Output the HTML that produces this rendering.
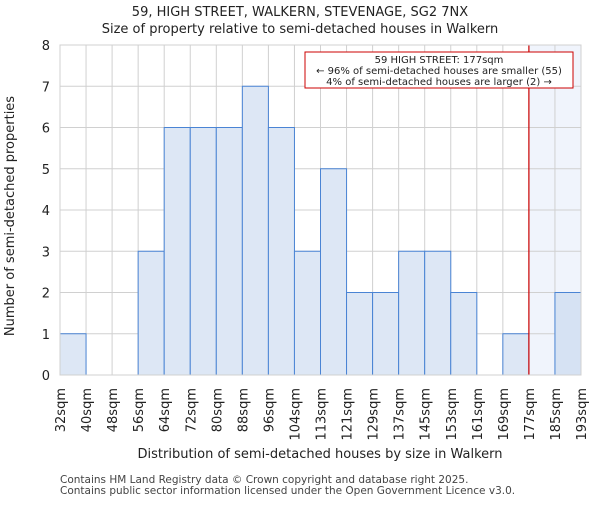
<!DOCTYPE html><html><head><meta charset="utf-8"><style>body{margin:0;background:#fff}svg{font-family:"DejaVu Sans","Liberation Sans",sans-serif}</style></head><body>
<svg id="c" width="600" height="500"></svg>
<script>
const categories=["32sqm","40sqm","48sqm","56sqm","64sqm","72sqm","80sqm","88sqm","96sqm","104sqm","113sqm","121sqm","129sqm","137sqm","145sqm","153sqm","161sqm","169sqm","177sqm","185sqm","193sqm"];
const counts=[1,0,0,3,6,6,6,7,6,3,5,2,2,3,3,2,0,1,0,2];
const yTicks=[0,1,2,3,4,5,6,7,8];
const markerIndex=18;
const NS="http://www.w3.org/2000/svg",svg=document.getElementById('c');
const L=60,R=581,T=45,B=375,n=counts.length,bw=(R-L)/n;
const x=i=>L+i*bw,y=v=>B-v*(B-T)/8;
function el(t,a,p){const e=document.createElementNS(NS,t);for(const k in a)e.setAttribute(k,a[k]);(p||svg).appendChild(e);return e;}
function tx(s,a){const e=el('text',a);e.textContent=s;return e;}
let e=el('rect',{x:x(markerIndex),y:T,width:R-x(markerIndex),height:B-T,fill:'#f0f4fc'});

for(let i=0;i<=n;i++){e=el('line',{x1:x(i),x2:x(i),y1:T,y2:B,stroke:'#d0d0d0'});}
yTicks.forEach(v=>{e=el('line',{x1:L,x2:R,y1:y(v),y2:y(v),stroke:'#d0d0d0'});
e=tx(v,{x:L-10,y:y(v)+5,'text-anchor':'end','font-size':13,fill:'#222'});});
counts.forEach((v,i)=>{if(!v)return;e=el('rect',{x:x(i),y:y(v),width:bw,height:B-y(v),fill:i>=markerIndex?'#d6e2f3':'#dde7f5',stroke:'#4a84d4','stroke-width':1});
});
categories.forEach((c,i)=>{e=tx(c,{transform:`translate(${x(i)+5},388) rotate(-90)`,'text-anchor':'end','font-size':13,fill:'#222'});});
e=el('line',{x1:x(markerIndex),x2:x(markerIndex),y1:T,y2:B,stroke:'#cc0000','stroke-width':1.2});
e=el('rect',{x:305,y:52,width:268,height:36,fill:'#fff',stroke:'#cc0000'});
["59 HIGH STREET: 177sqm","← 96% of semi-detached houses are smaller (55)","4% of semi-detached houses are larger (2) →"].forEach((s,k)=>{e=tx(s,{x:439,y:63+k*11,'text-anchor':'middle','font-size':10,fill:'#222'});});
e=el('rect',{x:L,y:T,width:R-L,height:B-T,fill:'none',stroke:'#d0d0d0'});
e=tx("59, HIGH STREET, WALKERN, STEVENAGE, SG2 7NX",{x:300,y:16,'text-anchor':'middle','font-size':13,fill:'#222'});
e=tx("Size of property relative to semi-detached houses in Walkern",{x:300,y:33,'text-anchor':'middle','font-size':13,fill:'#222'});
e=tx("Distribution of semi-detached houses by size in Walkern",{x:320,y:458,'text-anchor':'middle','font-size':13,fill:'#222'});
e=tx("Number of semi-detached properties",{transform:'translate(14,216) rotate(-90)','text-anchor':'middle','font-size':13,fill:'#222'});
e=tx("Contains HM Land Registry data © Crown copyright and database right 2025.",{x:60,y:483,'font-size':10.5,fill:'#444'});
e=tx("Contains public sector information licensed under the Open Government Licence v3.0.",{x:60,y:494,'font-size':10.5,fill:'#444'});
</script></body></html>
